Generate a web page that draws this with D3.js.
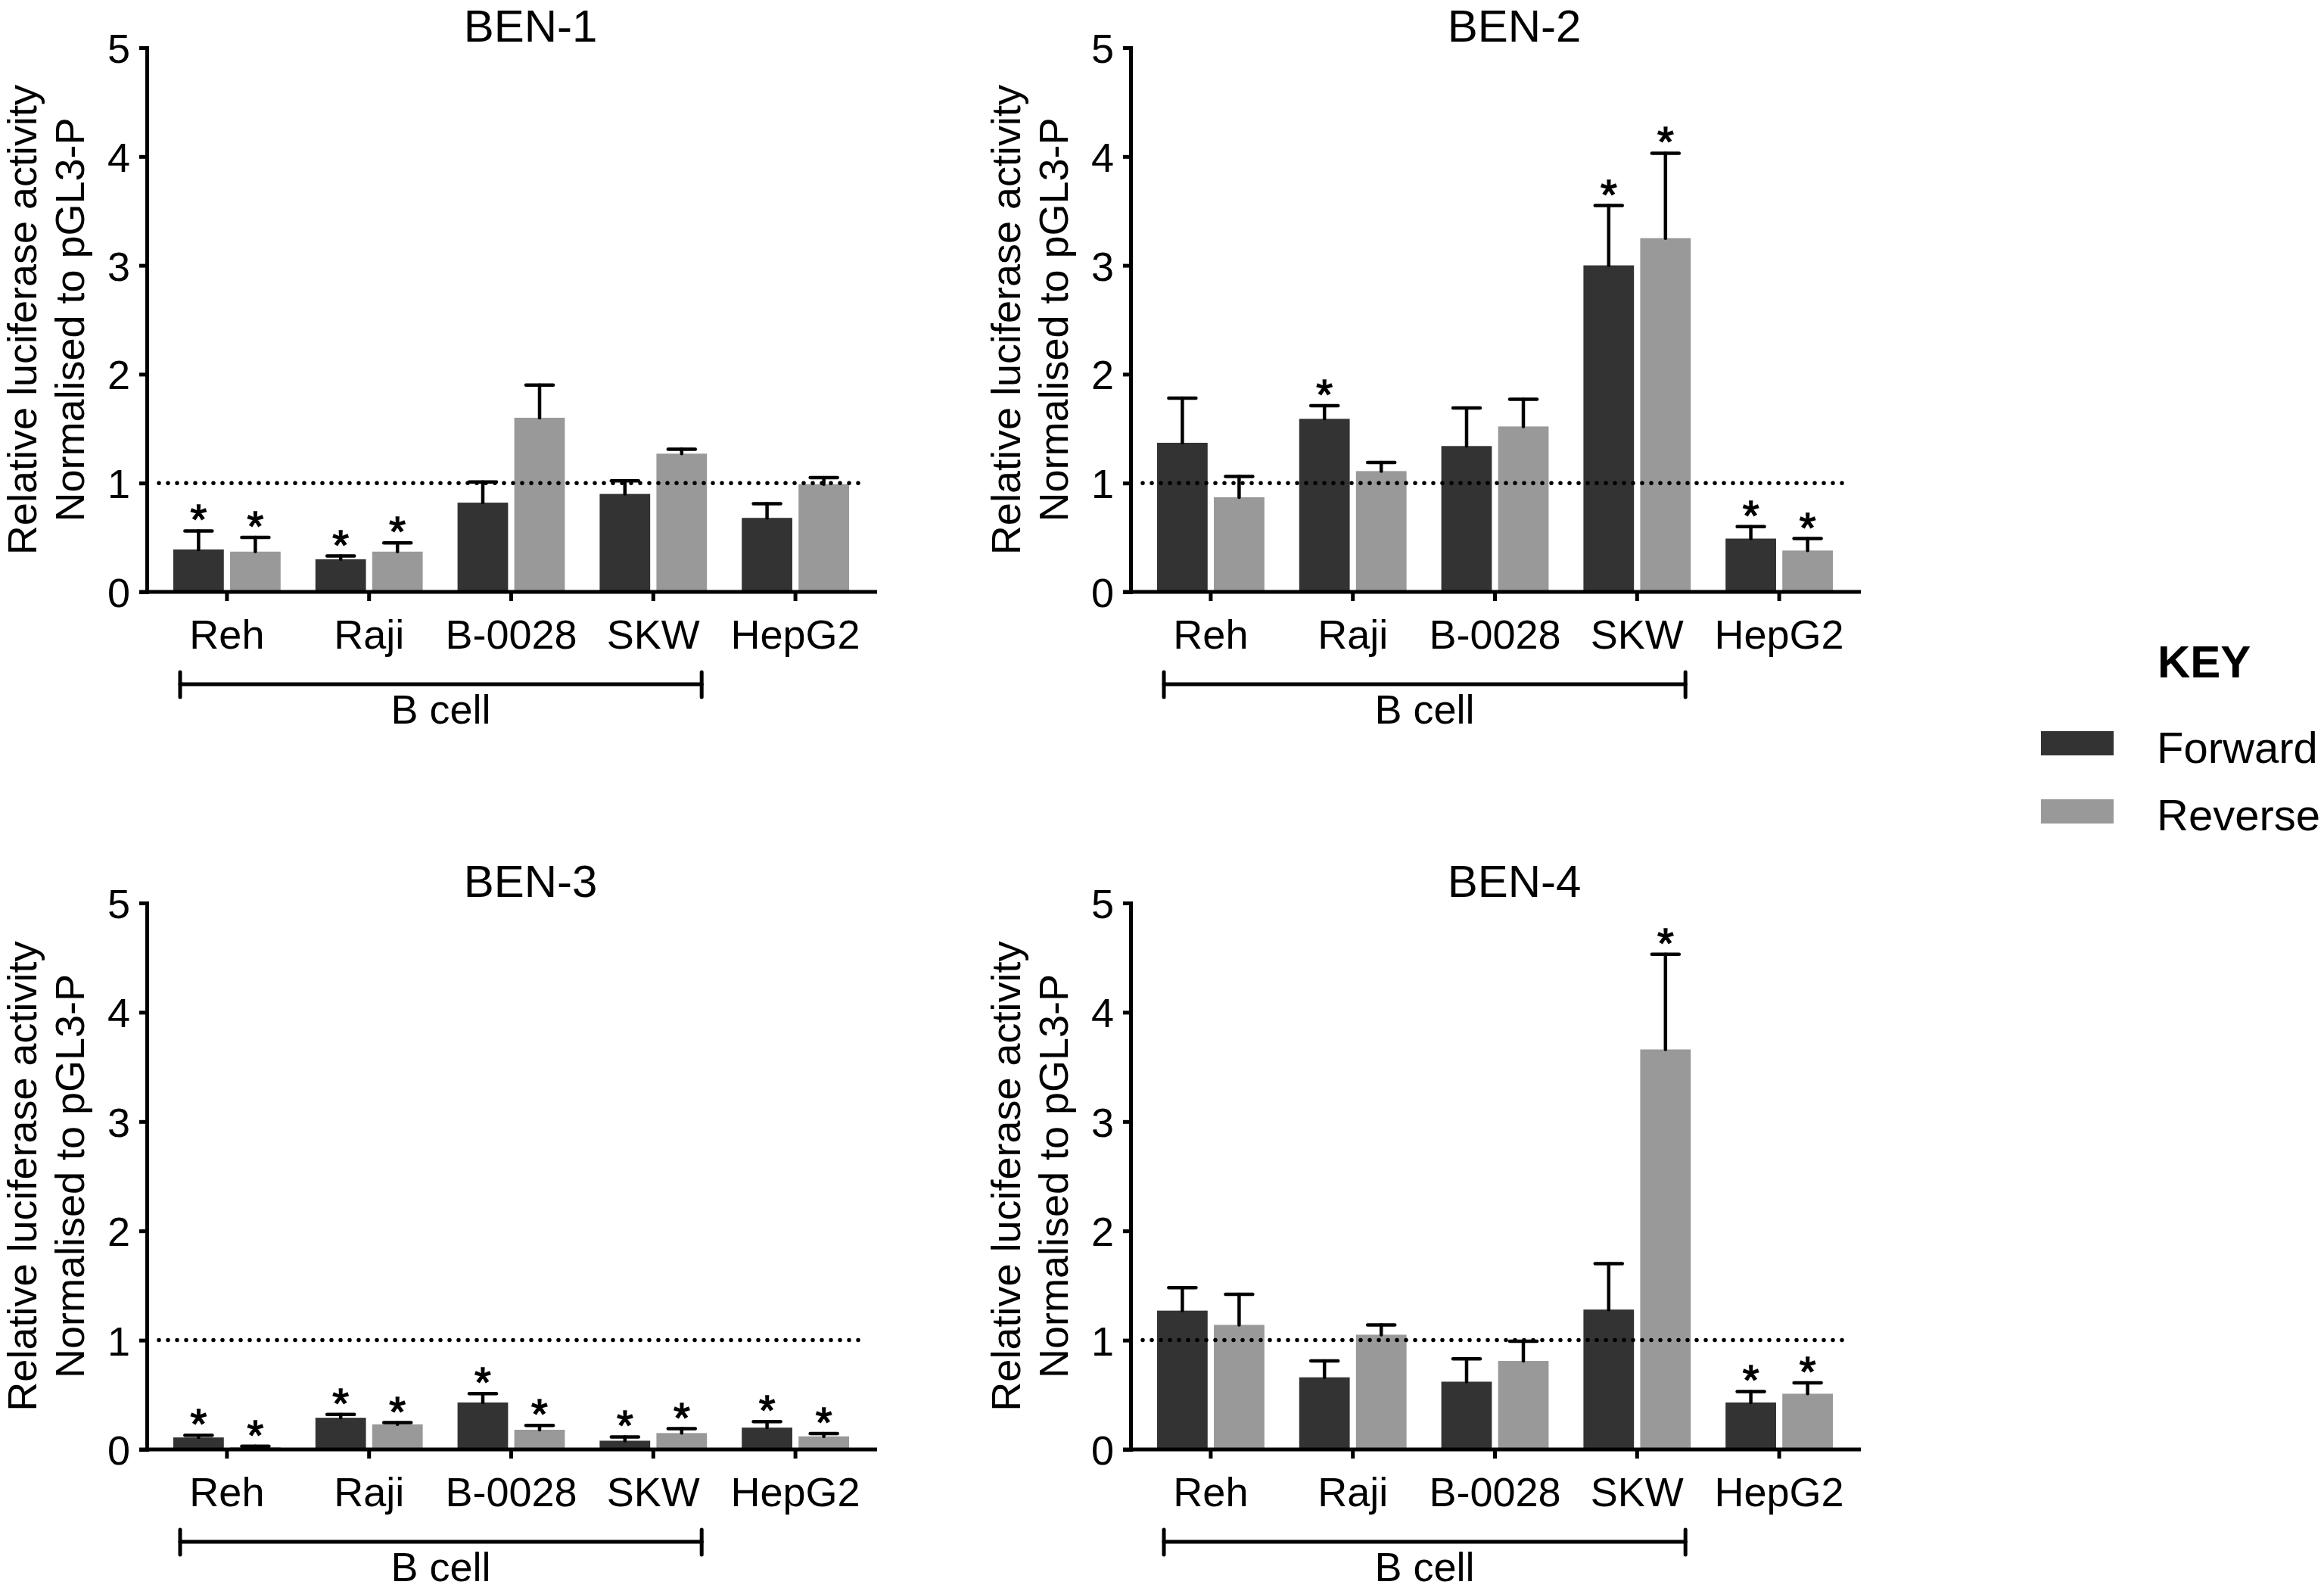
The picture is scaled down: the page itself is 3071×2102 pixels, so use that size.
<!DOCTYPE html>
<html>
<head>
<meta charset="utf-8">
<script src="https://cdn.jsdelivr.net/npm/d3@7"></script>
<style>
  html, body { margin: 0; padding: 0; background: #fff; }
  svg { display: block; font-family: "Liberation Sans", Arial, sans-serif; }
</style>
</head>
<body>
<div id="chart"></div>
<script>
// cell lines on the x axis, the two constructs, the four enhancers
var CELLS = ["Reh", "Raji", "B-0028", "SKW", "HepG2"];
var SERIES = ["Forward", "Reverse"];
var PANELS = ["BEN-1", "BEN-2", "BEN-3", "BEN-4"];
var Y_TICKS = [0, 1, 2, 3, 4, 5];

// means and SEM, one value per cell line
var BEN1_FWD = [0.39, 0.30, 0.82, 0.90, 0.68];
var BEN1_FWD_SEM = [0.17, 0.03, 0.19, 0.12, 0.13];
var BEN1_REV = [0.37, 0.37, 1.60, 1.27, 0.99];
var BEN1_REV_SEM = [0.13, 0.08, 0.30, 0.04, 0.06];
var BEN1_FWD_SIG = [1, 1, 0, 0, 0];
var BEN1_REV_SIG = [1, 1, 0, 0, 0];

var BEN2_FWD = [1.37, 1.59, 1.34, 3.00, 0.49];
var BEN2_FWD_SEM = [0.41, 0.12, 0.35, 0.55, 0.11];
var BEN2_REV = [0.87, 1.11, 1.52, 3.25, 0.38];
var BEN2_REV_SEM = [0.19, 0.08, 0.25, 0.78, 0.11];
var BEN2_FWD_SIG = [0, 1, 0, 1, 1];
var BEN2_REV_SIG = [0, 0, 0, 1, 1];

var BEN3_FWD = [0.11, 0.29, 0.43, 0.08, 0.20];
var BEN3_FWD_SEM = [0.02, 0.03, 0.08, 0.035, 0.055];
var BEN3_REV = [0.02, 0.23, 0.18, 0.15, 0.12];
var BEN3_REV_SEM = [0.01, 0.015, 0.04, 0.04, 0.025];
var BEN3_FWD_SIG = [1, 1, 1, 1, 1];
var BEN3_REV_SIG = [1, 1, 1, 1, 1];

var BEN4_FWD = [1.27, 0.66, 0.62, 1.28, 0.43];
var BEN4_FWD_SEM = [0.21, 0.15, 0.21, 0.42, 0.10];
var BEN4_REV = [1.14, 1.05, 0.81, 3.66, 0.51];
var BEN4_REV_SEM = [0.28, 0.09, 0.18, 0.87, 0.10];
var BEN4_FWD_SIG = [0, 0, 0, 0, 1];
var BEN4_REV_SIG = [0, 0, 0, 1, 1];

var BASELINE = 1;          // pGL3-P level (dotted line)
var B_CELL = ["Reh", "SKW"]; // bracket spans these

(function () {
  "use strict";

  var W = 3071, H = 2102;
  var COLORS = { Forward: "#333333", Reverse: "#999999" };
  var FONT = 54;

  var DATA = [
    { fwd: BEN1_FWD, fs: BEN1_FWD_SEM, rev: BEN1_REV, rs: BEN1_REV_SEM, fsig: BEN1_FWD_SIG, rsig: BEN1_REV_SIG },
    { fwd: BEN2_FWD, fs: BEN2_FWD_SEM, rev: BEN2_REV, rs: BEN2_REV_SEM, fsig: BEN2_FWD_SIG, rsig: BEN2_REV_SIG },
    { fwd: BEN3_FWD, fs: BEN3_FWD_SEM, rev: BEN3_REV, rs: BEN3_REV_SEM, fsig: BEN3_FWD_SIG, rsig: BEN3_REV_SIG },
    { fwd: BEN4_FWD, fs: BEN4_FWD_SEM, rev: BEN4_REV, rs: BEN4_REV_SEM, fsig: BEN4_FWD_SIG, rsig: BEN4_REV_SIG }
  ];

  // panel geometry: columns offset in x, rows have their own y range
  var COL_X = [0, 1300];
  var ROW_Y0 = [782, 1915], ROW_Y5 = [63, 1193];
  var AXIS_X = 194, AXIS_END = 1159;

  var svg = d3.select("#chart").append("svg").attr("width", W).attr("height", H);
  svg.append("rect").attr("width", W).attr("height", H).attr("fill", "#fff");

  var x = d3.scaleBand().domain(CELLS).range([206, 1145]).paddingInner(0.245).paddingOuter(0.1225);
  var xs = d3.scaleBand().domain(SERIES).range([0, x.bandwidth()]).paddingInner(0.11);

  PANELS.forEach(function (name, p) {
    var col = p % 2, row = Math.floor(p / 2);
    var d = DATA[p];
    var y = d3.scaleLinear().domain([0, 5]).range([ROW_Y0[row], ROW_Y5[row]]);
    var g = svg.append("g").attr("transform", "translate(" + COL_X[col] + ",0)");

    // title
    g.append("text").attr("x", 701).attr("y", y(5) - 8)
      .attr("text-anchor", "middle").attr("font-size", 60).text(name);

    // y label, two lines
    var yl = g.append("text").attr("transform", "translate(0," + ((y(0) + y(5)) / 2) + ") rotate(-90)")
      .attr("text-anchor", "middle").attr("font-size", FONT);
    yl.append("tspan").attr("x", 0).attr("y", 48).text("Relative luciferase activity");
    yl.append("tspan").attr("x", 0).attr("y", 111).text("Normalised to pGL3-P");

    // bars
    var rows = [];
    CELLS.forEach(function (c, i) {
      rows.push({ cell: c, s: "Forward", v: d.fwd[i], e: d.fs[i], sig: d.fsig[i] });
      rows.push({ cell: c, s: "Reverse", v: d.rev[i], e: d.rs[i], sig: d.rsig[i] });
    });
    function cx(r) { return x(r.cell) + xs(r.s) + xs.bandwidth() / 2; }

    g.append("g").selectAll("rect").data(rows).join("rect")
      .attr("x", function (r) { return x(r.cell) + xs(r.s); })
      .attr("width", xs.bandwidth())
      .attr("y", function (r) { return y(r.v); })
      .attr("height", function (r) { return y(0) - y(r.v); })
      .attr("fill", function (r) { return COLORS[r.s]; });

    // upper error bars
    var eb = g.append("g").attr("stroke", "#000").attr("stroke-width", 4.5).attr("stroke-linecap", "round");
    eb.selectAll("line.stem").data(rows).join("line").attr("class", "stem")
      .attr("x1", cx).attr("x2", cx)
      .attr("y1", function (r) { return y(r.v); })
      .attr("y2", function (r) { return y(r.v + r.e); });
    eb.selectAll("line.cap").data(rows).join("line").attr("class", "cap")
      .attr("x1", function (r) { return cx(r) - 18; }).attr("x2", function (r) { return cx(r) + 18; })
      .attr("y1", function (r) { return y(r.v + r.e); })
      .attr("y2", function (r) { return y(r.v + r.e); });

    // significance stars
    g.append("g").selectAll("text").data(rows.filter(function (r) { return r.sig; })).join("text")
      .attr("x", cx).attr("y", function (r) { return y(r.v + r.e) + 4; })
      .attr("text-anchor", "middle").attr("font-size", 56)
      .attr("stroke", "#000").attr("stroke-width", 1.5).text("*");

    // dotted reference line at 1
    g.append("line").attr("x1", x.range()[0] + 4).attr("x2", x.range()[1] - 3)
      .attr("y1", y(BASELINE)).attr("y2", y(BASELINE))
      .attr("stroke", "#000").attr("stroke-width", 5.5).attr("stroke-linecap", "round")
      .attr("stroke-dasharray", "0 12");

    // y axis
    var ya = g.append("g").attr("transform", "translate(" + AXIS_X + ",0)")
      .call(d3.axisLeft(y).tickValues(Y_TICKS).tickFormat(d3.format("d")).tickSize(10).tickSizeOuter(0).tickPadding(12));
    ya.select(".domain").attr("stroke-width", 5).attr("stroke-linecap", "square");
    ya.selectAll(".tick line").attr("stroke-width", 5);
    ya.selectAll(".tick text").attr("font-size", FONT).attr("font-family", null).attr("dy", "0.36em");

    // x axis
    var xa = g.append("g").attr("transform", "translate(0," + y(0) + ")")
      .call(d3.axisBottom(x).tickSize(12).tickSizeOuter(0));
    xa.select(".domain").remove();
    xa.append("line").attr("x1", AXIS_X - 10).attr("x2", AXIS_END).attr("stroke", "#000").attr("stroke-width", 5);
    xa.selectAll(".tick line").attr("stroke-width", 5);
    xa.selectAll(".tick text").attr("font-size", FONT).attr("font-family", null).attr("y", 75).attr("dy", 0);

    // B cell bracket
    var bx1 = x(B_CELL[0]) + 9, bx2 = x(B_CELL[1]) + x.bandwidth() - 7, by = y(0) + 122;
    var br = g.append("g").attr("stroke", "#000").attr("stroke-width", 5).attr("stroke-linecap", "round");
    br.append("line").attr("x1", bx1).attr("x2", bx2).attr("y1", by).attr("y2", by);
    br.append("line").attr("x1", bx1).attr("x2", bx1).attr("y1", by - 16).attr("y2", by + 17);
    br.append("line").attr("x1", bx2).attr("x2", bx2).attr("y1", by - 16).attr("y2", by + 17);
    g.append("text").attr("x", (bx1 + bx2) / 2).attr("y", y(0) + 174)
      .attr("text-anchor", "middle").attr("font-size", FONT).text("B cell");
  });

  // legend
  var lg = svg.append("g");
  lg.append("text").attr("x", 2851).attr("y", 895).attr("font-size", 60).attr("font-weight", "bold").text("KEY");
  SERIES.forEach(function (s, i) {
    lg.append("rect").attr("x", 2697).attr("y", 966 + i * 90).attr("width", 96).attr("height", 32).attr("fill", COLORS[s]);
    lg.append("text").attr("x", 2850).attr("y", 1008 + i * 89).attr("font-size", 58).text(s);
  });
})();
</script>
</body>
</html>
